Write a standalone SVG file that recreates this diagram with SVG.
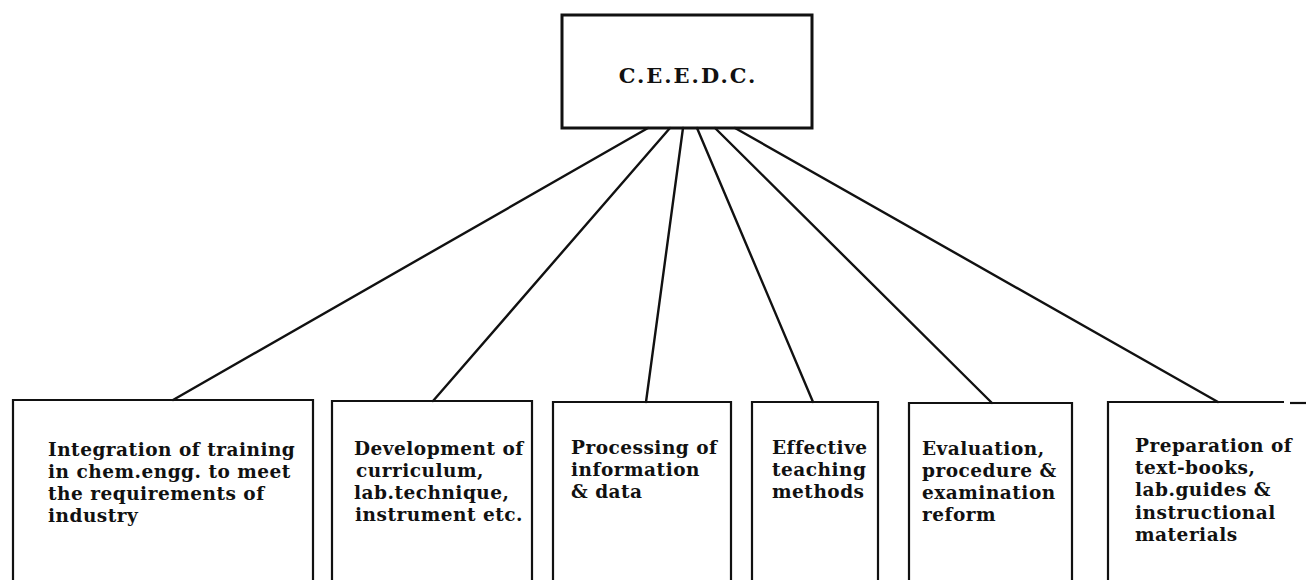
<svg xmlns="http://www.w3.org/2000/svg" width="1306" height="580" viewBox="0 0 1306 580">
  <style>
    .box { fill: none; stroke: #111; stroke-width: 2.2; }
    .top { fill: none; stroke: #111; stroke-width: 3; }
    .conn { stroke: #111; stroke-width: 2.4; fill: none; stroke-linecap: round; }
    .t { font-family: "DejaVu Serif", "Liberation Serif", serif; font-weight: bold; font-size: 18.5px; letter-spacing: 0.5px; fill: #111; }
    .tt { font-family: "DejaVu Serif", "Liberation Serif", serif; font-weight: bold; font-size: 21px; fill: #111; letter-spacing: 2px; }
  </style>
  <rect x="0" y="0" width="1306" height="580" fill="#ffffff"/>

  <g id="connectors">
    <line class="conn" x1="648" y1="128" x2="173" y2="400"/>
    <line class="conn" x1="670" y1="128" x2="433" y2="401"/>
    <line class="conn" x1="683" y1="128" x2="646" y2="402"/>
    <line class="conn" x1="697" y1="128" x2="813" y2="402"/>
    <line class="conn" x1="715" y1="128" x2="992" y2="403"/>
    <line class="conn" x1="735" y1="128" x2="1218" y2="402"/>
  </g>

  <g id="ceedc">
    <rect class="top" x="562" y="15" width="250" height="113"/>
    <text class="tt" x="688" y="83" text-anchor="middle">C.E.E.D.C.</text>
  </g>

  <g id="integration">
    <path class="box" d="M13,590 V400 H313 V590"/>
    <text class="t" x="48" y="456">Integration of training</text>
    <text class="t" x="48" y="478">in chem.engg. to meet</text>
    <text class="t" x="48" y="500">the requirements of</text>
    <text class="t" x="48" y="522">industry</text>
  </g>

  <g id="development">
    <path class="box" d="M332,590 V401 H532 V590"/>
    <text class="t" x="354" y="455">Development of</text>
    <text class="t" x="356" y="477">curriculum,</text>
    <text class="t" x="354" y="499">lab.technique,</text>
    <text class="t" x="355" y="521">instrument etc.</text>
  </g>

  <g id="processing">
    <path class="box" d="M553,590 V402 H731 V590"/>
    <text class="t" x="571" y="454">Processing of</text>
    <text class="t" x="571" y="476">information</text>
    <text class="t" x="571" y="498">&amp; data</text>
  </g>

  <g id="teaching">
    <path class="box" d="M752,590 V402 H878 V590"/>
    <text class="t" x="772" y="454">Effective</text>
    <text class="t" x="772" y="476">teaching</text>
    <text class="t" x="772" y="498">methods</text>
  </g>

  <g id="evaluation">
    <path class="box" d="M909,590 V403 H1072 V590"/>
    <text class="t" x="922" y="455">Evaluation,</text>
    <text class="t" x="922" y="477">procedure &amp;</text>
    <text class="t" x="922" y="499">examination</text>
    <text class="t" x="922" y="521">reform</text>
  </g>

  <g id="preparation">
    <path class="box" d="M1108,590 V402 H1284"/>
    <line class="box" x1="1290" y1="403" x2="1306" y2="403"/>
    <text class="t" x="1135" y="452">Preparation of</text>
    <text class="t" x="1135" y="474">text-books,</text>
    <text class="t" x="1135" y="496">lab.guides &amp;</text>
    <text class="t" x="1135" y="519">instructional</text>
    <text class="t" x="1135" y="541">materials</text>
  </g>
</svg>
